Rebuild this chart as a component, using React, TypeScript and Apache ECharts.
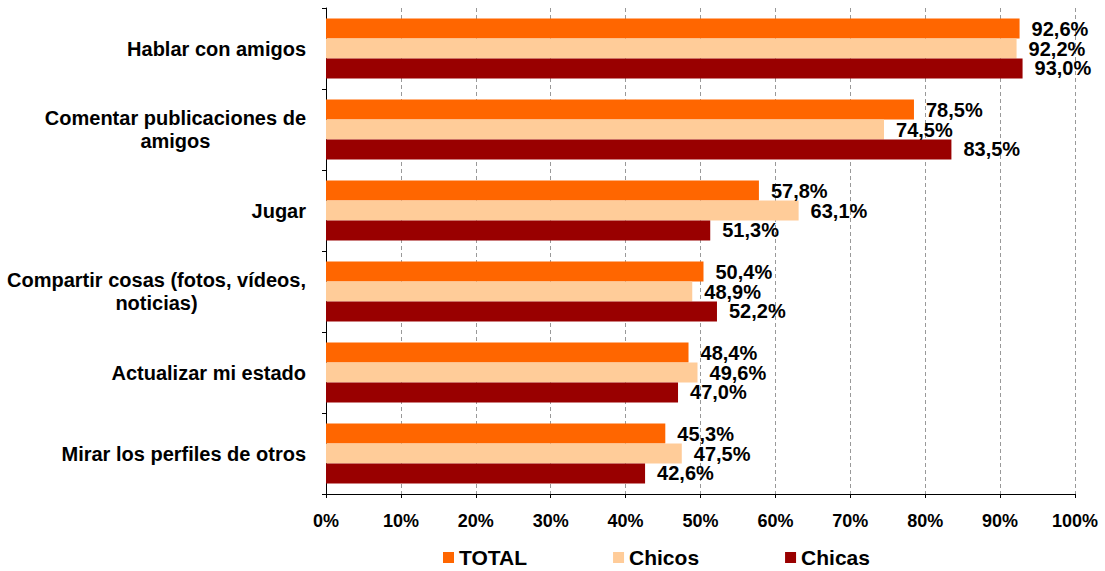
import React, { useEffect, useRef } from "react";
import * as echarts from "echarts";

const categories = [
  "Hablar con amigos",
  "Comentar publicaciones de\namigos",
  "Jugar",
  "Compartir cosas (fotos, vídeos,\nnoticias)",
  "Actualizar mi estado",
  "Mirar los perfiles de otros",
];
const seriesNames = ["TOTAL", "Chicos", "Chicas"];
const totalValues = [92.6, 78.5, 57.8, 50.4, 48.4, 45.3];
const chicosValues = [92.2, 74.5, 63.1, 48.9, 49.6, 47.5];
const chicasValues = [93.0, 83.5, 51.3, 52.2, 47.0, 42.6];
const colors = ["#FF6600", "#FFCC99", "#990000"];
const tickValues = [0, 10, 20, 30, 40, 50, 60, 70, 80, 90, 100];

const FONT = "'Liberation Sans', Arial, sans-serif";

export default function App() {
  const ref = useRef<HTMLDivElement>(null);
  useEffect(() => {
    if (!ref.current) return;
    const chart = echarts.init(ref.current, undefined, { renderer: "svg" });
    const data = [totalValues, chicosValues, chicasValues];
    chart.setOption({
      animation: false,
      textStyle: { fontFamily: FONT },
      grid: { left: 326, right: 30, top: 8, bottom: 77, containLabel: false },
      legend: {
        data: seriesNames,
        left: 438,
        top: 542,
        icon: "rect",
        itemWidth: 11,
        itemHeight: 11,
        itemGap: 86,
        textStyle: { fontFamily: FONT, fontWeight: "bold", fontSize: 21, color: "#000" },
      },
      xAxis: {
        type: "value",
        min: tickValues[0],
        max: tickValues[tickValues.length - 1],
        interval: 10,
        axisLine: { show: true, lineStyle: { color: "#000", width: 1 } },
        axisTick: { show: true, length: 4, lineStyle: { color: "#000" } },
        axisLabel: {
          formatter: "{value}%",
          fontFamily: FONT,
          fontWeight: "bold",
          fontSize: 18,
          color: "#000",
          margin: 18,
        },
        splitLine: { show: true, lineStyle: { color: "#999", type: [4, 3], width: 1 } },
      },
      yAxis: {
        type: "category",
        data: categories,
        inverse: true,
        axisLine: { show: true, lineStyle: { color: "#000", width: 1 } },
        axisTick: { show: true, length: 4, lineStyle: { color: "#000" } },
        axisLabel: {
          margin: 20,
          color: "#000",
          formatter: (v: string) => v.split("\n").map((l) => `{a|${l}}`).join("\n"),
          rich: {
            a: {
              fontFamily: FONT,
              fontWeight: "bold",
              fontSize: 20,
              color: "#000",
              align: "center",
              lineHeight: 23,
            },
          },
        },
      },
      series: seriesNames.map((name, i) => ({
        name,
        type: "bar",
        data: data[i],
        barGap: "0%",
        barCategoryGap: "26%",
        itemStyle: { color: colors[i] },
        label: {
          show: true,
          position: "right",
          distance: 12,
          formatter: (p: any) => `${p.value.toFixed(1).replace(".", ",")}%`,
          fontFamily: FONT,
          fontWeight: "bold",
          fontSize: 20,
          lineHeight: 18,
          color: "#000",
        },
      })),
    });
    return () => chart.dispose();
  }, []);
  return <div ref={ref} style={{ width: 1105, height: 571, position: "absolute", left: 0, top: 0 }} />;
}
